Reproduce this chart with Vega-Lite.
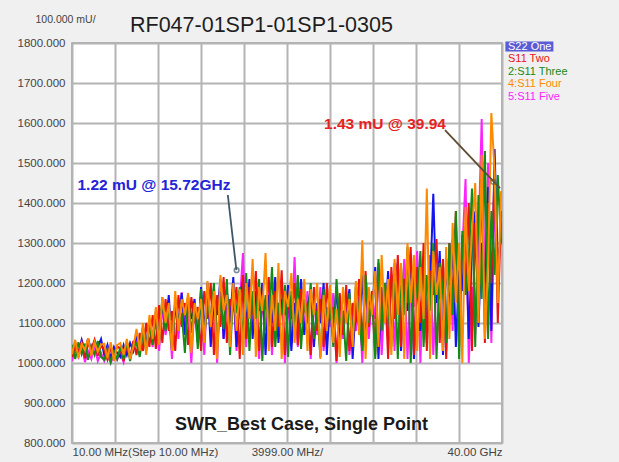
{
"$schema": "https://vega.github.io/schema/vega-lite/v6.json",
"width": 430, "height": 400,
"autosize": "none",
"padding": {"left": 72, "top": 43, "right": 117, "bottom": 19},
"background": "#f0f0f0",
"title": {"text": "RF047-01SP1-01SP1-0305", "anchor": "start", "frame": "group", "dx": 58, "dy": 39, "offset": 0, "fontSize": 21.5, "fontWeight": "normal", "font": "Liberation Sans", "color": "#1e1e1e", "baseline": "alphabetic"},
"config": {"view": {"fill": "#ffffff", "stroke": "#9a9a9a", "strokeWidth": 1.5}, "font": "Liberation Sans"},
"layer": [
{"data": {"values": [
{"f":0.01,"s":"e","v":1005},{"f":0.31,"s":"e","v":1035},{"f":0.61,"s":"e","v":1015},{"f":0.91,"s":"e","v":1050},{"f":1.21,"s":"e","v":1002},{"f":1.51,"s":"e","v":1030},{"f":1.81,"s":"e","v":1010},{"f":2.11,"s":"e","v":1045},{"f":2.41,"s":"e","v":1005},{"f":2.71,"s":"e","v":1025},
{"f":3.01,"s":"e","v":1005},{"f":3.31,"s":"e","v":1025},{"f":3.61,"s":"e","v":1000},{"f":3.91,"s":"e","v":1020},{"f":4.21,"s":"e","v":1008},{"f":4.51,"s":"e","v":1025},{"f":4.81,"s":"e","v":1002},{"f":5.11,"s":"e","v":1040},{"f":5.41,"s":"e","v":1015},{"f":5.71,"s":"e","v":1035},
{"f":6.01,"s":"e","v":1060},{"f":6.31,"s":"e","v":1020},{"f":6.61,"s":"e","v":1080},{"f":6.91,"s":"e","v":1030},{"f":7.21,"s":"e","v":1095},{"f":7.51,"s":"e","v":1040},{"f":7.81,"s":"e","v":1110},{"f":8.11,"s":"e","v":1030},{"f":8.41,"s":"e","v":1140},{"f":8.71,"s":"e","v":1070},
{"f":9.01,"s":"e","v":1130},{"f":9.31,"s":"e","v":1010},{"f":9.61,"s":"e","v":1160},{"f":9.91,"s":"e","v":1060},{"f":10.21,"s":"e","v":1177},{"f":10.51,"s":"e","v":1090},{"f":10.81,"s":"e","v":1120},{"f":11.11,"s":"e","v":1000},{"f":11.41,"s":"e","v":1150},{"f":11.71,"s":"e","v":1080},
{"f":12.01,"s":"e","v":1170},{"f":12.31,"s":"e","v":1020},{"f":12.61,"s":"e","v":1190},{"f":12.91,"s":"e","v":1100},{"f":13.21,"s":"e","v":1140},{"f":13.51,"s":"e","v":1000},{"f":13.81,"s":"e","v":1200},{"f":14.11,"s":"e","v":1060},{"f":14.41,"s":"e","v":1165},{"f":14.71,"s":"e","v":1110},
{"f":15.01,"s":"e","v":1185},{"f":15.31,"s":"e","v":1030},{"f":15.61,"s":"e","v":1150},{"f":15.91,"s":"e","v":1275},{"f":16.21,"s":"e","v":1040},{"f":16.51,"s":"e","v":1190},{"f":16.81,"s":"e","v":1100},{"f":17.11,"s":"e","v":1160},{"f":17.41,"s":"e","v":1010},{"f":17.71,"s":"e","v":1160},
{"f":18.01,"s":"e","v":1080},{"f":18.31,"s":"e","v":1200},{"f":18.61,"s":"e","v":1020},{"f":18.91,"s":"e","v":1170},{"f":19.21,"s":"e","v":1120},{"f":19.51,"s":"e","v":1190},{"f":19.81,"s":"e","v":1000},{"f":20.11,"s":"e","v":1150},{"f":20.41,"s":"e","v":1060},{"f":20.71,"s":"e","v":1265},
{"f":21.01,"s":"e","v":1040},{"f":21.31,"s":"e","v":1130},{"f":21.61,"s":"e","v":1090},{"f":21.91,"s":"e","v":1180},{"f":22.21,"s":"e","v":1010},{"f":22.51,"s":"e","v":1160},{"f":22.81,"s":"e","v":1070},{"f":23.11,"s":"e","v":1190},{"f":23.41,"s":"e","v":1030},{"f":23.71,"s":"e","v":1140},
{"f":24.01,"s":"e","v":1090},{"f":24.31,"s":"e","v":1175},{"f":24.61,"s":"e","v":1000},{"f":24.91,"s":"e","v":1150},{"f":25.21,"s":"e","v":1060},{"f":25.51,"s":"e","v":1180},{"f":25.81,"s":"e","v":1020},{"f":26.11,"s":"e","v":1130},{"f":26.41,"s":"e","v":1080},{"f":26.71,"s":"e","v":1165},
{"f":27.01,"s":"e","v":1000},{"f":27.31,"s":"e","v":1210},{"f":27.61,"s":"e","v":1060},{"f":27.91,"s":"e","v":1170},{"f":28.21,"s":"e","v":1110},{"f":28.51,"s":"e","v":1240},{"f":28.81,"s":"e","v":1020},{"f":29.11,"s":"e","v":1180},{"f":29.41,"s":"e","v":1070},{"f":29.71,"s":"e","v":1220},
{"f":30.01,"s":"e","v":1030},{"f":30.31,"s":"e","v":1230},{"f":30.61,"s":"e","v":1090},{"f":30.91,"s":"e","v":1260},{"f":31.21,"s":"e","v":1010},{"f":31.51,"s":"e","v":1200},{"f":31.81,"s":"e","v":1140},{"f":32.11,"s":"e","v":1280},{"f":32.41,"s":"e","v":1000},{"f":32.71,"s":"e","v":1240},
{"f":33.01,"s":"e","v":1100},{"f":33.31,"s":"e","v":1270},{"f":33.61,"s":"e","v":1020},{"f":33.91,"s":"e","v":1210},{"f":34.21,"s":"e","v":1160},{"f":34.51,"s":"e","v":1250},{"f":34.81,"s":"e","v":1030},{"f":35.11,"s":"e","v":1300},{"f":35.41,"s":"e","v":1080},{"f":35.71,"s":"e","v":1350},
{"f":36.01,"s":"e","v":1140},{"f":36.31,"s":"e","v":1280},{"f":36.61,"s":"e","v":1460},{"f":36.91,"s":"e","v":1000},{"f":37.21,"s":"e","v":1190},{"f":37.51,"s":"e","v":1070},{"f":37.81,"s":"e","v":1300},{"f":38.11,"s":"e","v":1610},{"f":38.41,"s":"e","v":1180},{"f":38.71,"s":"e","v":1500},
{"f":39.01,"s":"e","v":1050},{"f":39.31,"s":"e","v":1420},{"f":39.61,"s":"e","v":1200},{"f":39.91,"s":"e","v":1350},
{"f":0.01,"s":"a","v":1035},{"f":0.31,"s":"a","v":1050},{"f":0.61,"s":"a","v":1025},{"f":0.91,"s":"a","v":1058},{"f":1.21,"s":"a","v":1030},{"f":1.51,"s":"a","v":1062},{"f":1.81,"s":"a","v":1028},{"f":2.11,"s":"a","v":1055},{"f":2.41,"s":"a","v":1040},{"f":2.71,"s":"a","v":1060},
{"f":3.01,"s":"a","v":1020},{"f":3.31,"s":"a","v":1045},{"f":3.61,"s":"a","v":1012},{"f":3.91,"s":"a","v":1040},{"f":4.21,"s":"a","v":1025},{"f":4.51,"s":"a","v":1015},{"f":4.81,"s":"a","v":1045},{"f":5.11,"s":"a","v":1020},{"f":5.41,"s":"a","v":1050},{"f":5.71,"s":"a","v":1030},
{"f":6.01,"s":"a","v":1070},{"f":6.31,"s":"a","v":1035},{"f":6.61,"s":"a","v":1090},{"f":6.91,"s":"a","v":1045},{"f":7.21,"s":"a","v":1110},{"f":7.51,"s":"a","v":1050},{"f":7.81,"s":"a","v":1130},{"f":8.11,"s":"a","v":1060},{"f":8.41,"s":"a","v":1150},{"f":8.71,"s":"a","v":1090},
{"f":9.01,"s":"a","v":1170},{"f":9.31,"s":"a","v":1040},{"f":9.61,"s":"a","v":1140},{"f":9.91,"s":"a","v":1100},{"f":10.21,"s":"a","v":1175},{"f":10.51,"s":"a","v":1070},{"f":10.81,"s":"a","v":1135},{"f":11.11,"s":"a","v":1110},{"f":11.41,"s":"a","v":1160},{"f":11.71,"s":"a","v":1050},
{"f":12.01,"s":"a","v":1190},{"f":12.31,"s":"a","v":1080},{"f":12.61,"s":"a","v":1200},{"f":12.91,"s":"a","v":1040},{"f":13.21,"s":"a","v":1160},{"f":13.51,"s":"a","v":1120},{"f":13.81,"s":"a","v":1210},{"f":14.11,"s":"a","v":1060},{"f":14.41,"s":"a","v":1180},{"f":14.71,"s":"a","v":1100},
{"f":15.01,"s":"a","v":1215},{"f":15.31,"s":"a","v":1040},{"f":15.61,"s":"a","v":1170},{"f":15.91,"s":"a","v":1205},{"f":16.21,"s":"a","v":1090},{"f":16.51,"s":"a","v":1210},{"f":16.81,"s":"a","v":1060},{"f":17.11,"s":"a","v":1180},{"f":17.41,"s":"a","v":1130},{"f":17.71,"s":"a","v":1200},
{"f":18.01,"s":"a","v":1020},{"f":18.31,"s":"a","v":1170},{"f":18.61,"s":"a","v":1100},{"f":18.91,"s":"a","v":1215},{"f":19.21,"s":"a","v":1050},{"f":19.51,"s":"a","v":1160},{"f":19.81,"s":"a","v":1120},{"f":20.11,"s":"a","v":1195},{"f":20.41,"s":"a","v":1030},{"f":20.71,"s":"a","v":1150},
{"f":21.01,"s":"a","v":1090},{"f":21.31,"s":"a","v":1210},{"f":21.61,"s":"a","v":1070},{"f":21.91,"s":"a","v":1140},{"f":22.21,"s":"a","v":1180},{"f":22.51,"s":"a","v":1040},{"f":22.81,"s":"a","v":1150},{"f":23.11,"s":"a","v":1100},{"f":23.41,"s":"a","v":1200},{"f":23.71,"s":"a","v":1020},
{"f":24.01,"s":"a","v":1160},{"f":24.31,"s":"a","v":1080},{"f":24.61,"s":"a","v":1190},{"f":24.91,"s":"a","v":1050},{"f":25.21,"s":"a","v":1130},{"f":25.51,"s":"a","v":1110},{"f":25.81,"s":"a","v":1185},{"f":26.11,"s":"a","v":1010},{"f":26.41,"s":"a","v":1150},{"f":26.71,"s":"a","v":1090},
{"f":27.01,"s":"a","v":1220},{"f":27.31,"s":"a","v":1050},{"f":27.61,"s":"a","v":1170},{"f":27.91,"s":"a","v":1120},{"f":28.21,"s":"a","v":1240},{"f":28.51,"s":"a","v":1010},{"f":28.81,"s":"a","v":1190},{"f":29.11,"s":"a","v":1100},{"f":29.41,"s":"a","v":1230},{"f":29.71,"s":"a","v":1060},
{"f":30.01,"s":"a","v":1160},{"f":30.31,"s":"a","v":1250},{"f":30.61,"s":"a","v":1030},{"f":30.91,"s":"a","v":1200},{"f":31.21,"s":"a","v":1130},{"f":31.51,"s":"a","v":1270},{"f":31.81,"s":"a","v":1010},{"f":32.11,"s":"a","v":1220},{"f":32.41,"s":"a","v":1080},{"f":32.71,"s":"a","v":1260},
{"f":33.01,"s":"a","v":1050},{"f":33.31,"s":"a","v":1190},{"f":33.61,"s":"a","v":1423},{"f":33.91,"s":"a","v":1150},{"f":34.21,"s":"a","v":1280},{"f":34.51,"s":"a","v":1020},{"f":34.81,"s":"a","v":1260},{"f":35.11,"s":"a","v":1120},{"f":35.41,"s":"a","v":1310},{"f":35.71,"s":"a","v":1040},
{"f":36.01,"s":"a","v":1230},{"f":36.31,"s":"a","v":1180},{"f":36.61,"s":"a","v":1340},{"f":36.91,"s":"a","v":1060},{"f":37.21,"s":"a","v":1290},{"f":37.51,"s":"a","v":1380},{"f":37.81,"s":"a","v":1090},{"f":38.11,"s":"a","v":1300},{"f":38.41,"s":"a","v":1200},{"f":38.71,"s":"a","v":1440},
{"f":39.01,"s":"a","v":1080},{"f":39.31,"s":"a","v":1535},{"f":39.61,"s":"a","v":1250},{"f":39.91,"s":"a","v":1310},
{"f":0.01,"s":"b","v":1015},{"f":0.31,"s":"b","v":1040},{"f":0.61,"s":"b","v":1030},{"f":0.91,"s":"b","v":1052},{"f":1.21,"s":"b","v":1012},{"f":1.51,"s":"b","v":1048},{"f":1.81,"s":"b","v":1035},{"f":2.11,"s":"b","v":1058},{"f":2.41,"s":"b","v":1018},{"f":2.71,"s":"b","v":1044},
{"f":3.01,"s":"b","v":1032},{"f":3.31,"s":"b","v":1008},{"f":3.61,"s":"b","v":1038},{"f":3.91,"s":"b","v":1015},{"f":4.21,"s":"b","v":1042},{"f":4.51,"s":"b","v":1035},{"f":4.81,"s":"b","v":1005},{"f":5.11,"s":"b","v":1048},{"f":5.41,"s":"b","v":1012},{"f":5.71,"s":"b","v":1055},
{"f":6.01,"s":"b","v":1020},{"f":6.31,"s":"b","v":1075},{"f":6.61,"s":"b","v":1030},{"f":6.91,"s":"b","v":1100},{"f":7.21,"s":"b","v":1040},{"f":7.51,"s":"b","v":1120},{"f":7.81,"s":"b","v":1035},{"f":8.11,"s":"b","v":1145},{"f":8.41,"s":"b","v":1050},{"f":8.71,"s":"b","v":1160},
{"f":9.01,"s":"b","v":1080},{"f":9.31,"s":"b","v":1130},{"f":9.61,"s":"b","v":1030},{"f":9.91,"s":"b","v":1170},{"f":10.21,"s":"b","v":1090},{"f":10.51,"s":"b","v":1150},{"f":10.81,"s":"b","v":1045},{"f":11.11,"s":"b","v":1165},{"f":11.41,"s":"b","v":1100},{"f":11.71,"s":"b","v":1140},
{"f":12.01,"s":"b","v":1030},{"f":12.31,"s":"b","v":1180},{"f":12.61,"s":"b","v":1110},{"f":12.91,"s":"b","v":1200},{"f":13.21,"s":"b","v":1020},{"f":13.51,"s":"b","v":1170},{"f":13.81,"s":"b","v":1090},{"f":14.11,"s":"b","v":1215},{"f":14.41,"s":"b","v":1050},{"f":14.71,"s":"b","v":1160},
{"f":15.01,"s":"b","v":1130},{"f":15.31,"s":"b","v":1190},{"f":15.61,"s":"b","v":1010},{"f":15.91,"s":"b","v":1220},{"f":16.21,"s":"b","v":1060},{"f":16.51,"s":"b","v":1190},{"f":16.81,"s":"b","v":1120},{"f":17.11,"s":"b","v":1230},{"f":17.41,"s":"b","v":1030},{"f":17.71,"s":"b","v":1170},
{"f":18.01,"s":"b","v":1140},{"f":18.31,"s":"b","v":1215},{"f":18.61,"s":"b","v":1040},{"f":18.91,"s":"b","v":1180},{"f":19.21,"s":"b","v":1090},{"f":19.51,"s":"b","v":1232},{"f":19.81,"s":"b","v":1020},{"f":20.11,"s":"b","v":1160},{"f":20.41,"s":"b","v":1110},{"f":20.71,"s":"b","v":1200},
{"f":21.01,"s":"b","v":1045},{"f":21.31,"s":"b","v":1185},{"f":21.61,"s":"b","v":1130},{"f":21.91,"s":"b","v":1150},{"f":22.21,"s":"b","v":1020},{"f":22.51,"s":"b","v":1190},{"f":22.81,"s":"b","v":1080},{"f":23.11,"s":"b","v":1160},{"f":23.41,"s":"b","v":1040},{"f":23.71,"s":"b","v":1200},
{"f":24.01,"s":"b","v":1110},{"f":24.31,"s":"b","v":1140},{"f":24.61,"s":"b","v":1005},{"f":24.91,"s":"b","v":1175},{"f":25.21,"s":"b","v":1070},{"f":25.51,"s":"b","v":1195},{"f":25.81,"s":"b","v":1030},{"f":26.11,"s":"b","v":1150},{"f":26.41,"s":"b","v":1100},{"f":26.71,"s":"b","v":1210},
{"f":27.01,"s":"b","v":1040},{"f":27.31,"s":"b","v":1230},{"f":27.61,"s":"b","v":1090},{"f":27.91,"s":"b","v":1180},{"f":28.21,"s":"b","v":1020},{"f":28.51,"s":"b","v":1250},{"f":28.81,"s":"b","v":1130},{"f":29.11,"s":"b","v":1200},{"f":29.41,"s":"b","v":1010},{"f":29.71,"s":"b","v":1240},
{"f":30.01,"s":"b","v":1110},{"f":30.31,"s":"b","v":1270},{"f":30.61,"s":"b","v":1040},{"f":30.91,"s":"b","v":1210},{"f":31.21,"s":"b","v":1150},{"f":31.51,"s":"b","v":1290},{"f":31.81,"s":"b","v":1020},{"f":32.11,"s":"b","v":1240},{"f":32.41,"s":"b","v":1100},{"f":32.71,"s":"b","v":1300},
{"f":33.01,"s":"b","v":1030},{"f":33.31,"s":"b","v":1230},{"f":33.61,"s":"b","v":1170},{"f":33.91,"s":"b","v":1310},{"f":34.21,"s":"b","v":1050},{"f":34.51,"s":"b","v":1260},{"f":34.81,"s":"b","v":1010},{"f":35.11,"s":"b","v":1300},{"f":35.41,"s":"b","v":1150},{"f":35.71,"s":"b","v":1380},
{"f":36.01,"s":"b","v":1040},{"f":36.31,"s":"b","v":1320},{"f":36.61,"s":"b","v":1200},{"f":36.91,"s":"b","v":1400},{"f":37.21,"s":"b","v":1030},{"f":37.51,"s":"b","v":1350},{"f":37.81,"s":"b","v":1120},{"f":38.11,"s":"b","v":1460},{"f":38.41,"s":"b","v":1050},{"f":38.71,"s":"b","v":1400},
{"f":39.01,"s":"b","v":1200},{"f":39.31,"s":"b","v":1480},{"f":39.61,"s":"b","v":1100},{"f":39.91,"s":"b","v":1380},
{"f":0.01,"s":"c","v":1045},{"f":0.31,"s":"c","v":1010},{"f":0.61,"s":"c","v":1052},{"f":0.91,"s":"c","v":1022},{"f":1.21,"s":"c","v":1048},{"f":1.51,"s":"c","v":1008},{"f":1.81,"s":"c","v":1042},{"f":2.11,"s":"c","v":1020},{"f":2.41,"s":"c","v":1055},{"f":2.71,"s":"c","v":1015},
{"f":3.01,"s":"c","v":1008},{"f":3.31,"s":"c","v":1035},{"f":3.61,"s":"c","v":1002},{"f":3.91,"s":"c","v":1030},{"f":4.21,"s":"c","v":1010},{"f":4.51,"s":"c","v":1040},{"f":4.81,"s":"c","v":1010},{"f":5.11,"s":"c","v":1055},{"f":5.41,"s":"c","v":1005},{"f":5.71,"s":"c","v":1045},
{"f":6.01,"s":"c","v":1050},{"f":6.31,"s":"c","v":1015},{"f":6.61,"s":"c","v":1080},{"f":6.91,"s":"c","v":1030},{"f":7.21,"s":"c","v":1105},{"f":7.51,"s":"c","v":1045},{"f":7.81,"s":"c","v":1125},{"f":8.11,"s":"c","v":1050},{"f":8.41,"s":"c","v":1165},{"f":8.71,"s":"c","v":1080},
{"f":9.01,"s":"c","v":1140},{"f":9.31,"s":"c","v":1030},{"f":9.61,"s":"c","v":1155},{"f":9.91,"s":"c","v":1100},{"f":10.21,"s":"c","v":1125},{"f":10.51,"s":"c","v":1025},{"f":10.81,"s":"c","v":1170},{"f":11.11,"s":"c","v":1075},{"f":11.41,"s":"c","v":1145},{"f":11.71,"s":"c","v":1035},
{"f":12.01,"s":"c","v":1185},{"f":12.31,"s":"c","v":1060},{"f":12.61,"s":"c","v":1150},{"f":12.91,"s":"c","v":1110},{"f":13.21,"s":"c","v":1200},{"f":13.51,"s":"c","v":1035},{"f":13.81,"s":"c","v":1165},{"f":14.11,"s":"c","v":1085},{"f":14.41,"s":"c","v":1210},{"f":14.71,"s":"c","v":1020},
{"f":15.01,"s":"c","v":1175},{"f":15.31,"s":"c","v":1125},{"f":15.61,"s":"c","v":1190},{"f":15.91,"s":"c","v":1050},{"f":16.21,"s":"c","v":1225},{"f":16.51,"s":"c","v":1030},{"f":16.81,"s":"c","v":1180},{"f":17.11,"s":"c","v":1110},{"f":17.41,"s":"c","v":1210},{"f":17.71,"s":"c","v":1005},
{"f":18.01,"s":"c","v":1170},{"f":18.31,"s":"c","v":1090},{"f":18.61,"s":"c","v":1240},{"f":18.91,"s":"c","v":1040},{"f":19.21,"s":"c","v":1150},{"f":19.51,"s":"c","v":1120},{"f":19.81,"s":"c","v":1195},{"f":20.11,"s":"c","v":1015},{"f":20.41,"s":"c","v":1180},{"f":20.71,"s":"c","v":1070},
{"f":21.01,"s":"c","v":1220},{"f":21.31,"s":"c","v":1035},{"f":21.61,"s":"c","v":1160},{"f":21.91,"s":"c","v":1100},{"f":22.21,"s":"c","v":1200},{"f":22.51,"s":"c","v":1060},{"f":22.81,"s":"c","v":1130},{"f":23.11,"s":"c","v":1015},{"f":23.41,"s":"c","v":1185},{"f":23.71,"s":"c","v":1100},
{"f":24.01,"s":"c","v":1150},{"f":24.31,"s":"c","v":1040},{"f":24.61,"s":"c","v":1210},{"f":24.91,"s":"c","v":1090},{"f":25.21,"s":"c","v":1130},{"f":25.51,"s":"c","v":1005},{"f":25.81,"s":"c","v":1175},{"f":26.11,"s":"c","v":1060},{"f":26.41,"s":"c","v":1195},{"f":26.71,"s":"c","v":1110},
{"f":27.01,"s":"c","v":1030},{"f":27.31,"s":"c","v":1220},{"f":27.61,"s":"c","v":1100},{"f":27.91,"s":"c","v":1170},{"f":28.21,"s":"c","v":1010},{"f":28.51,"s":"c","v":1260},{"f":28.81,"s":"c","v":1080},{"f":29.11,"s":"c","v":1200},{"f":29.41,"s":"c","v":1140},{"f":29.71,"s":"c","v":1040},
{"f":30.01,"s":"c","v":1250},{"f":30.31,"s":"c","v":1010},{"f":30.61,"s":"c","v":1240},{"f":30.91,"s":"c","v":1120},{"f":31.21,"s":"c","v":1290},{"f":31.51,"s":"c","v":1000},{"f":31.81,"s":"c","v":1230},{"f":32.11,"s":"c","v":1160},{"f":32.41,"s":"c","v":1280},{"f":32.71,"s":"c","v":1040},
{"f":33.01,"s":"c","v":1220},{"f":33.31,"s":"c","v":1130},{"f":33.61,"s":"c","v":1300},{"f":33.91,"s":"c","v":1010},{"f":34.21,"s":"c","v":1250},{"f":34.51,"s":"c","v":1180},{"f":34.81,"s":"c","v":1050},{"f":35.11,"s":"c","v":1300},{"f":35.41,"s":"c","v":1120},{"f":35.71,"s":"c","v":1380},
{"f":36.01,"s":"c","v":1010},{"f":36.31,"s":"c","v":1330},{"f":36.61,"s":"c","v":1170},{"f":36.91,"s":"c","v":1260},{"f":37.21,"s":"c","v":1436},{"f":37.51,"s":"c","v":1040},{"f":37.81,"s":"c","v":1420},{"f":38.11,"s":"c","v":1160},{"f":38.41,"s":"c","v":1530},{"f":38.71,"s":"c","v":1060},
{"f":39.01,"s":"c","v":1380},{"f":39.31,"s":"c","v":1220},{"f":39.61,"s":"c","v":1470},{"f":39.91,"s":"c","v":1300},
{"f":0.01,"s":"d","v":1022},{"f":0.31,"s":"d","v":1058},{"f":0.61,"s":"d","v":1012},{"f":0.91,"s":"d","v":1048},{"f":1.21,"s":"d","v":1032},{"f":1.51,"s":"d","v":1062},{"f":1.81,"s":"d","v":1018},{"f":2.11,"s":"d","v":1052},{"f":2.41,"s":"d","v":1028},{"f":2.71,"s":"d","v":1046},
{"f":3.01,"s":"d","v":1048},{"f":3.31,"s":"d","v":1012},{"f":3.61,"s":"d","v":1052},{"f":3.91,"s":"d","v":1005},{"f":4.21,"s":"d","v":1045},{"f":4.51,"s":"d","v":1050},{"f":4.81,"s":"d","v":1020},{"f":5.11,"s":"d","v":1060},{"f":5.41,"s":"d","v":1010},{"f":5.71,"s":"d","v":1040},
{"f":6.01,"s":"d","v":1085},{"f":6.31,"s":"d","v":1030},{"f":6.61,"s":"d","v":1100},{"f":6.91,"s":"d","v":1020},{"f":7.21,"s":"d","v":1120},{"f":7.51,"s":"d","v":1060},{"f":7.81,"s":"d","v":1140},{"f":8.11,"s":"d","v":1045},{"f":8.41,"s":"d","v":1165},{"f":8.71,"s":"d","v":1100},
{"f":9.01,"s":"d","v":1150},{"f":9.31,"s":"d","v":1030},{"f":9.61,"s":"d","v":1180},{"f":9.91,"s":"d","v":1080},{"f":10.21,"s":"d","v":1160},{"f":10.51,"s":"d","v":1120},{"f":10.81,"s":"d","v":1175},{"f":11.11,"s":"d","v":1025},{"f":11.41,"s":"d","v":1150},{"f":11.71,"s":"d","v":1110},
{"f":12.01,"s":"d","v":1160},{"f":12.31,"s":"d","v":1050},{"f":12.61,"s":"d","v":1205},{"f":12.91,"s":"d","v":1090},{"f":13.21,"s":"d","v":1180},{"f":13.51,"s":"d","v":1010},{"f":13.81,"s":"d","v":1220},{"f":14.11,"s":"d","v":1130},{"f":14.41,"s":"d","v":1170},{"f":14.71,"s":"d","v":1040},
{"f":15.01,"s":"d","v":1200},{"f":15.31,"s":"d","v":1080},{"f":15.61,"s":"d","v":1185},{"f":15.91,"s":"d","v":1020},{"f":16.21,"s":"d","v":1200},{"f":16.51,"s":"d","v":1110},{"f":16.81,"s":"d","v":1260},{"f":17.11,"s":"d","v":1015},{"f":17.41,"s":"d","v":1190},{"f":17.71,"s":"d","v":1130},
{"f":18.01,"s":"d","v":1275},{"f":18.31,"s":"d","v":1030},{"f":18.61,"s":"d","v":1170},{"f":18.91,"s":"d","v":1080},{"f":19.21,"s":"d","v":1250},{"f":19.51,"s":"d","v":1010},{"f":19.81,"s":"d","v":1180},{"f":20.11,"s":"d","v":1140},{"f":20.41,"s":"d","v":1225},{"f":20.71,"s":"d","v":1050},
{"f":21.01,"s":"d","v":1160},{"f":21.31,"s":"d","v":1100},{"f":21.61,"s":"d","v":1210},{"f":21.91,"s":"d","v":1030},{"f":22.21,"s":"d","v":1185},{"f":22.51,"s":"d","v":1120},{"f":22.81,"s":"d","v":1200},{"f":23.11,"s":"d","v":1010},{"f":23.41,"s":"d","v":1170},{"f":23.71,"s":"d","v":1080},
{"f":24.01,"s":"d","v":1195},{"f":24.31,"s":"d","v":1050},{"f":24.61,"s":"d","v":1135},{"f":24.91,"s":"d","v":1015},{"f":25.21,"s":"d","v":1190},{"f":25.51,"s":"d","v":1100},{"f":25.81,"s":"d","v":1160},{"f":26.11,"s":"d","v":1040},{"f":26.41,"s":"d","v":1205},{"f":26.71,"s":"d","v":1070},
{"f":27.01,"s":"d","v":1307},{"f":27.31,"s":"d","v":1010},{"f":27.61,"s":"d","v":1190},{"f":27.91,"s":"d","v":1120},{"f":28.21,"s":"d","v":1230},{"f":28.51,"s":"d","v":1040},{"f":28.81,"s":"d","v":1270},{"f":29.11,"s":"d","v":1100},{"f":29.41,"s":"d","v":1210},{"f":29.71,"s":"d","v":1020},
{"f":30.01,"s":"d","v":1260},{"f":30.31,"s":"d","v":1120},{"f":30.61,"s":"d","v":1250},{"f":30.91,"s":"d","v":1010},{"f":31.21,"s":"d","v":1300},{"f":31.51,"s":"d","v":1150},{"f":31.81,"s":"d","v":1270},{"f":32.11,"s":"d","v":1030},{"f":32.41,"s":"d","v":1240},{"f":32.71,"s":"d","v":1110},
{"f":33.01,"s":"d","v":1436},{"f":33.31,"s":"d","v":1010},{"f":33.61,"s":"d","v":1280},{"f":33.91,"s":"d","v":1170},{"f":34.21,"s":"d","v":1240},{"f":34.51,"s":"d","v":1030},{"f":34.81,"s":"d","v":1290},{"f":35.11,"s":"d","v":1060},{"f":35.41,"s":"d","v":1350},{"f":35.71,"s":"d","v":1150},
{"f":36.01,"s":"d","v":1300},{"f":36.31,"s":"d","v":1000},{"f":36.61,"s":"d","v":1390},{"f":36.91,"s":"d","v":1180},{"f":37.21,"s":"d","v":1330},{"f":37.51,"s":"d","v":1450},{"f":37.81,"s":"d","v":1100},{"f":38.11,"s":"d","v":1520},{"f":38.41,"s":"d","v":1060},{"f":38.71,"s":"d","v":1250},
{"f":39.01,"s":"d","v":1625},{"f":39.31,"s":"d","v":1480},{"f":39.61,"s":"d","v":1150},{"f":39.91,"s":"d","v":1430}
]},
"mark": {"type": "line", "strokeWidth": 2, "clip": true},
"encoding": {
"x": {"field": "f", "type": "quantitative", "scale": {"domain": [0.01, 40], "nice": false, "zero": false},
"axis": {"values": [0.01, 4.009, 8.008, 12.007, 16.006, 20.005, 24.004, 28.003, 32.002, 36.001, 40], "grid": true, "gridColor": "#b4b4b4", "gridWidth": 2, "ticks": false, "domain": false, "title": null, "labelFlush": true, "labelOverlap": false, "labelFont": "Liberation Sans", "labelFontSize": 11.5, "labelColor": "#444444", "labelPadding": 3,
"labelExpr": "datum.value < 1 ? '10.00 MHz(Step 10.00 MHz)' : (datum.value > 19 && datum.value < 21 ? '3999.00 MHz/' : (datum.value > 39 ? '40.00 GHz' : ''))"}},
"y": {"field": "v", "type": "quantitative", "scale": {"domain": [800, 1800], "nice": false, "zero": false},
"axis": {"tickCount": 10, "format": ".3f", "grid": true, "gridColor": "#b4b4b4", "gridWidth": 2, "ticks": false, "domain": false, "labelOverlap": false, "labelBound": false, "labelFont": "Liberation Sans", "labelFontSize": 11.5, "labelColor": "#444444", "labelPadding": 7,
"title": "100.000 mU/", "titleAngle": 0, "titleAlign": "left", "titleBaseline": "middle", "titleX": -37, "titleY": -24, "titleFontSize": 10.5, "titleFontWeight": "normal", "titleColor": "#444444", "titleFont": "Liberation Sans"}},
"color": {"field": "s", "type": "nominal", "scale": {"domain": ["a", "b", "c", "d", "e"], "range": ["#1414f0", "#e81414", "#168a16", "#ff8a00", "#ff22ff"]},
"legend": {"orient": "none", "legendX": 433, "legendY": -3, "title": null, "labelFont": "Liberation Sans", "labelFontSize": 11, "rowPadding": 0.5,
"labelExpr": "datum.value == 'a' ? 'S22 One' : datum.value == 'b' ? 'S11 Two' : datum.value == 'c' ? '2:S11 Three' : datum.value == 'd' ? '4:S11 Four' : '5:S11 Five'",
"symbolType": "M-1,-0.8H6.84V0.8H-1Z", "symbolSize": 150, "symbolStrokeWidth": 0, "labelOffset": -10,
"encode": {"symbols": {"update": {"fill": {"signal": "datum.value === 'a' ? '#5b5bd6' : 'transparent'"}, "stroke": {"value": "transparent"}, "opacity": {"value": 1}}},
"labels": {"update": {"fill": {"signal": "datum.value === 'a' ? '#ffffff' : scale('color', datum.value)"}}}}}}
}},
{"data": {"values": [{}]}, "mark": {"type": "rule", "color": "#3e5868", "strokeWidth": 1.8},
"encoding": {"x": {"datum": 14.5}, "y": {"datum": 1420}, "x2": {"datum": 15.3}, "y2": {"datum": 1232}}},
{"data": {"values": [{}]}, "mark": {"type": "point", "shape": "circle", "filled": false, "size": 22, "color": "#3e5868", "strokeWidth": 1.5},
"encoding": {"x": {"datum": 15.32}, "y": {"datum": 1232}}},
{"data": {"values": [{}]}, "mark": {"type": "rule", "color": "#5e4c30", "strokeWidth": 1.8},
"encoding": {"x": {"datum": 34.7}, "y": {"datum": 1582}, "x2": {"datum": 39.81}, "y2": {"datum": 1437}}},
{"data": {"values": [{}]}, "mark": {"type": "point", "shape": "circle", "filled": false, "size": 22, "color": "#6a5a3a", "strokeWidth": 1.5},
"encoding": {"x": {"datum": 39.19}, "y": {"datum": 1453}}},
{"data": {"values": [{}]}, "mark": {"type": "text", "text": "1.22 mU @ 15.72GHz", "font": "Liberation Sans", "fontWeight": "bold", "fontSize": 15.5, "color": "#2323d8", "align": "center", "baseline": "middle"},
"encoding": {"x": {"datum": 7.63}, "y": {"datum": 1445}}},
{"data": {"values": [{}]}, "mark": {"type": "text", "text": "1.43 mU @ 39.94", "font": "Liberation Sans", "fontWeight": "bold", "fontSize": 15.5, "color": "#e62222", "align": "center", "baseline": "middle"},
"encoding": {"x": {"datum": 29.12}, "y": {"datum": 1597}}},
{"data": {"values": [{}]}, "mark": {"type": "text", "text": "SWR_Best Case, Single Point", "font": "Liberation Sans", "fontWeight": "bold", "fontSize": 18, "color": "#1a1a1a", "align": "center", "baseline": "middle"},
"encoding": {"x": {"datum": 21.35}, "y": {"datum": 845}}}
]
}
